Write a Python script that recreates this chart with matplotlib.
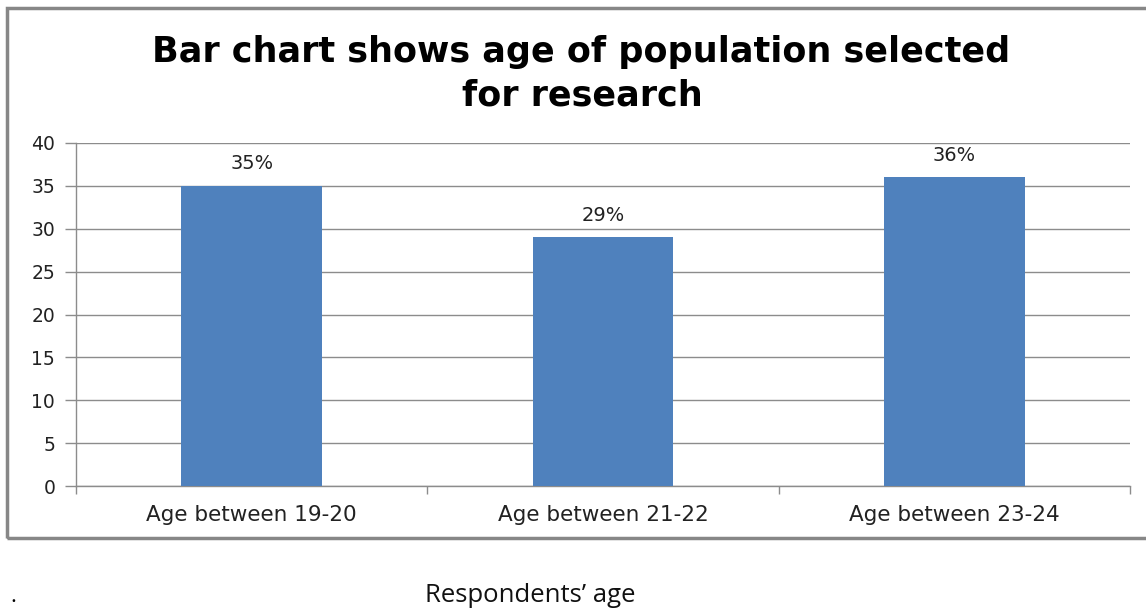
import matplotlib
matplotlib.use("Agg")
import matplotlib.pyplot as plt
from matplotlib.patches import Rectangle
import numpy as np

categories = ["Age between 19-20", "Age between 21-22", "Age between 23-24"]
values = [35, 29, 36]
value_labels = ["35%", "29%", "36%"]
y_ticks = [0, 5, 10, 15, 20, 25, 30, 35, 40]
title_lines = ["Bar chart shows age of population selected", "for research"]
x_title = "Respondents\u2019 age"

W, H = 1146, 611
fig = plt.figure(figsize=(W / 100, H / 100), dpi=100)
fig.patch.set_facecolor("white")
renderer = fig.canvas.get_renderer()


def fit(text_obj, target_px):
    """Scale a text's font size so its rendered width matches target_px."""
    w = text_obj.get_window_extent(renderer).width
    text_obj.set_fontsize(text_obj.get_fontsize() * target_px / w)


# chart frame
fig.patches.append(Rectangle((7 / W, 1 - 538 / H), (W + 10) / W, (538 - 8) / H,
                             transform=fig.transFigure, fill=False,
                             edgecolor="#878787", linewidth=2.5, zorder=0))

ax = fig.add_axes([76 / W, 1 - 486 / H, (1130 - 76) / W, (486 - 143) / H])
x = np.arange(len(categories))
ax.bar(x, values, width=0.4, color="#4f81bd", zorder=3)
ax.set_xlim(-0.5, len(categories) - 0.5)
ax.set_ylim(0, 40)

grid_c = "#8c8c8c"
text_c = "#222222"
ax.set_yticks(y_ticks)
ax.yaxis.grid(True, color=grid_c, linewidth=1.0, zorder=0)
for s in ["top", "right"]:
    ax.spines[s].set_visible(False)
for s in ["left", "bottom"]:
    ax.spines[s].set_color(grid_c)
    ax.spines[s].set_linewidth(1.0)

ax.tick_params(axis="y", length=8, width=1.0, color=grid_c, pad=7,
               labelsize=13.5, labelcolor=text_c)
ax.set_xticks(np.arange(-0.5, len(categories), 1.0))
ax.set_xticklabels([])
ax.set_xticks(x, minor=True)
ax.set_xticklabels(categories, minor=True)
ax.tick_params(axis="x", which="major", length=6, width=1.0, color=grid_c)
ax.tick_params(axis="x", which="minor", length=0, pad=14,
               labelsize=14, labelcolor=text_c)
for lab in ax.get_yticklabels() + ax.get_xticklabels(minor=True):
    lab.set_fontfamily("DejaVu Sans")
fig.canvas.draw()
for lab in ax.get_xticklabels(minor=True):
    fit(lab, 211)

for xi, v, t in zip(x, values, value_labels):
    a = ax.annotate(t, (xi, v), xytext=(0, 9), textcoords="offset points",
                    ha="center", va="bottom", fontsize=13.5, color=text_c,
                    family="DejaVu Sans")
    fit(a, 43)

# two-line title, each line placed on its own baseline
t1 = fig.text(581 / W, 1 - 62 / H, title_lines[0], ha="center", va="baseline",
              fontsize=24, fontweight="bold", family="DejaVu Sans", color="black")
fit(t1, 857)
t2 = fig.text(582 / W, 1 - 105 / H, title_lines[1], ha="center", va="baseline",
              fontsize=t1.get_fontsize(), fontweight="bold", family="DejaVu Sans",
              color="black")

fig.text(10 / W, 1 - 596 / H, ".", ha="left", va="center", fontsize=16,
         family=["Open Sans", "DejaVu Sans"])
xt = fig.text(530 / W, 1 - 596 / H, x_title, ha="center", va="center",
              fontsize=18, family=["Open Sans", "DejaVu Sans"], color="#111111")
fit(xt, 210)

fig.savefig("out.png", dpi=100, facecolor="white")
